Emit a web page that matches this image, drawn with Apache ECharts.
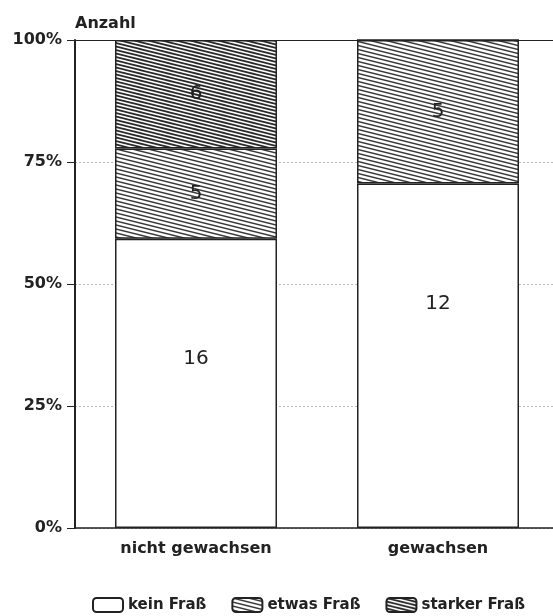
<!DOCTYPE html>
<html>
<head>
<meta charset="utf-8">
<script src="https://cdn.jsdelivr.net/npm/echarts@6/dist/echarts.min.js"></script>
<style>
  html, body { margin: 0; padding: 0; background: #fff; }
  #chart { width: 553px; height: 616px; }
</style>
</head>
<body>
<div id="chart"></div>
<script>
// Wachstum vs. Fraßschaden: Anzahl je Gruppe, als 100%-Säulen gestapelt
const categories = ['nicht gewachsen', 'gewachsen'];
const seriesNames = ['kein Fraß', 'etwas Fraß', 'starker Fraß'];
const keinFrass = [16, 12];
const etwasFrass = [5, 5];
const starkerFrass = [6, 0];
const yTicks = [0, 25, 50, 75, 100];

const totals = categories.map((_, i) => keinFrass[i] + etwasFrass[i] + starkerFrass[i]);
const toPercent = (arr) => arr.map((v, i) => ({ value: v / totals[i] * 100, count: v }));

// diagonal hatch tile: lines falling from upper left to lower right
function hatch(tileW, tileH, linesPerTile, lineWidth, color) {
  const c = document.createElement('canvas');
  c.width = tileW; c.height = tileH;
  const g = c.getContext('2d');
  g.fillStyle = '#ffffff';
  g.fillRect(0, 0, tileW, tileH);
  g.strokeStyle = color;
  g.lineWidth = lineWidth;
  const step = tileH / linesPerTile;
  for (let o = -tileH; o <= tileH; o += step) {
    g.beginPath();
    g.moveTo(-1, o - tileH / tileW);
    g.lineTo(tileW + 1, o + tileH + tileH / tileW);
    g.stroke();
  }
  return c;
}

const etwasPattern = { image: hatch(32, 8, 2, 1.5, '#3a3a3a'), repeat: 'repeat' };
const starkerPattern = { image: hatch(28, 7, 2, 1.7, '#2a2a2a'), repeat: 'repeat' };

const font = 'DejaVu Sans';
const countLabel = (p) => (p.data.count > 0 ? String(p.data.count) : '');

const chart = echarts.init(document.getElementById('chart'), null, { renderer: 'canvas' });
chart.setOption({
  animation: false,
  backgroundColor: '#ffffff',
  grid: {
    left: 75, width: 484, top: 40, height: 488,
    outerBoundsMode: 'none', containLabel: false
  },
  legend: {
    left: 92, top: 597, padding: 0,
    itemWidth: 30, itemHeight: 14, itemGap: 25,
    icon: 'roundRect',
    textStyle: { fontFamily: font, fontWeight: 'bold', fontSize: 15, color: '#222' },
    data: seriesNames
  },
  xAxis: [
    {
      type: 'category',
      data: categories,
      axisLine: { lineStyle: { color: '#222', width: 1.5 } },
      axisTick: { show: false },
      axisLabel: { margin: 13, fontFamily: font, fontWeight: 'bold', fontSize: 16, color: '#222' }
    },
    {
      // frame line along the top of the plot
      type: 'category',
      data: categories,
      position: 'top',
      axisLine: { show: true, lineStyle: { color: '#222', width: 1.2 } },
      axisTick: { show: false },
      axisLabel: { show: false },
      splitLine: { show: false }
    }
  ],
  yAxis: {
    type: 'value',
    min: 0, max: 100, interval: 25,
    name: 'Anzahl',
    nameGap: 8,
    nameTextStyle: { fontFamily: font, fontWeight: 'bold', fontSize: 16, color: '#222', align: 'left' },
    axisLine: { show: true, lineStyle: { color: '#222', width: 2 } },
    axisTick: { show: true, length: 8, lineStyle: { color: '#222', width: 1 } },
    axisLabel: {
      margin: 13, fontFamily: font, fontWeight: 'bold', fontSize: 16, color: '#222',
      formatter: (v) => (yTicks.includes(v) ? v + '%' : '')
    },
    splitLine: { show: true, lineStyle: { color: '#b8b8b8', type: [2, 2], width: 1 } }
  },
  series: [
    {
      name: seriesNames[0], type: 'bar', stack: 'a', barWidth: 162,
      data: toPercent(keinFrass),
      itemStyle: { color: '#ffffff', borderColor: '#222', borderWidth: 1.5 },
      label: {
        show: true, position: 'insideTop', distance: 110, formatter: countLabel,
        fontFamily: font, fontSize: 20, color: '#222'
      }
    },
    {
      name: seriesNames[1], type: 'bar', stack: 'a', barWidth: 162,
      data: toPercent(etwasFrass),
      itemStyle: { color: etwasPattern, borderColor: '#222', borderWidth: 1.5 },
      label: {
        show: true, position: 'inside', formatter: countLabel,
        fontFamily: font, fontSize: 20, color: '#222'
      }
    },
    {
      name: seriesNames[2], type: 'bar', stack: 'a', barWidth: 162,
      data: toPercent(starkerFrass),
      itemStyle: { color: starkerPattern, borderColor: '#222', borderWidth: 1.5 },
      label: {
        show: true, position: 'inside', formatter: countLabel,
        fontFamily: font, fontSize: 20, color: '#222'
      }
    }
  ]
});
</script>
</body>
</html>
